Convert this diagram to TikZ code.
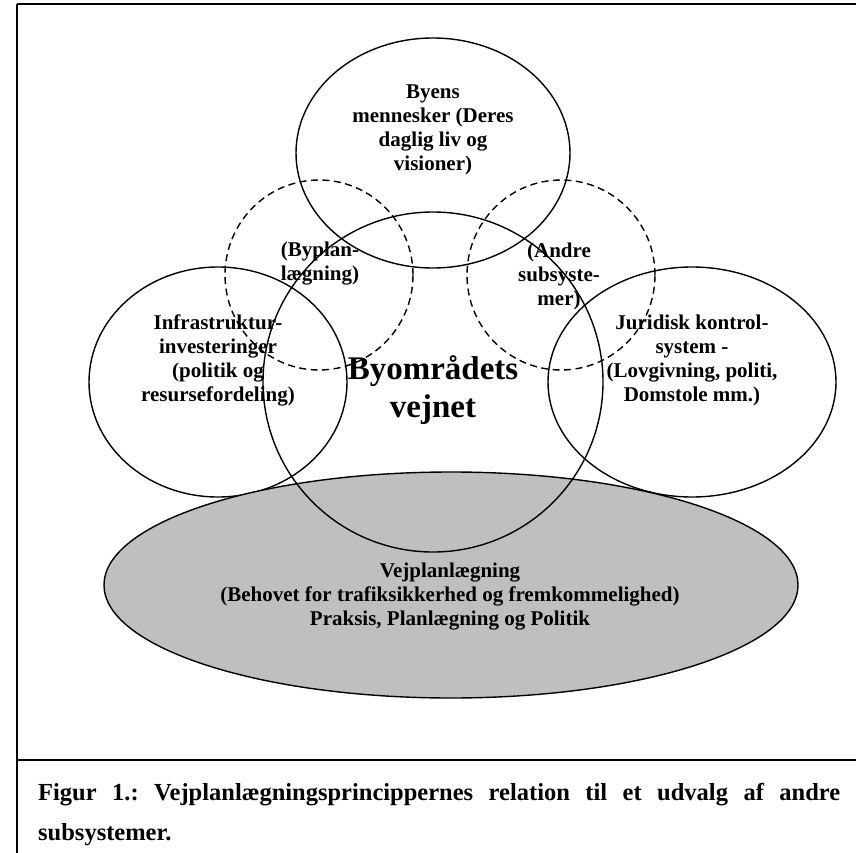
\documentclass[tikz,border=0pt]{standalone}
\usepackage{fontspec}
\setmainfont{Liberation Serif}
\begin{document}
\begin{tikzpicture}[x=1pt,y=-1pt,
  ring/.style={draw=black,line width=1.4pt},
  dashring/.style={draw=black,line width=1.4pt,dash pattern=on 7pt off 4.5pt},
  lbl/.style={font=\fontsize{21}{24}\selectfont\bfseries,align=center,inner sep=0pt},
  biglbl/.style={font=\fontsize{33}{38}\selectfont\bfseries,align=center,inner sep=0pt},
  frameline/.style={draw=black,line width=2pt},
]
\useasboundingbox (0,0) rectangle (856,853);

% outer frame and caption separator
\draw[frameline] (17,4) -- (870,4);
\draw[frameline] (17,4) -- (17,870);
\draw[frameline] (17,760) -- (870,760);

% side subsystems
\draw[ring] (218,382) ellipse [x radius=129pt, y radius=115pt];
\draw[ring] (692,382) ellipse [x radius=144pt, y radius=115pt];

% road planning base
\draw[ring,fill=black!25] (451,585) ellipse [x radius=347pt, y radius=113pt];

% citizens
\draw[ring] (433,153) ellipse [x radius=137pt, y radius=115pt];

% central road network
\draw[ring] (433,382) ellipse [x radius=170pt, y radius=170pt];

% dashed subsystems
\draw[dashring] (319,275) ellipse [x radius=94pt, y radius=95pt];
\draw[dashring] (561,275) ellipse [x radius=94pt, y radius=95pt];

% labels
\node[lbl] (byens) at (433,130) {Byens\\mennesker (Deres\\daglig liv og\\visioner)};
\node[lbl] (byplan) at (320,264) {(Byplan-\\lægning)};
\node[lbl] (andre) at (559,276) {(Andre\\subsyste-\\mer)};
\node[lbl] (infra) at (218,360) {Infrastruktur-\\investeringer\\(politik og\\resursefordeling)};
\node[lbl] (jur) at (692,360) {Juridisk kontrol-\\system -\\(Lovgivning, politi,\\Domstole mm.)};
\node[biglbl] (vejnet) at (433,390) {Byområdets\\vejnet};
\node[lbl] (vejpl) at (450,597) {Vejplanlægning\\(Behovet for trafiksikkerhed og fremkommelighed)\\Praksis, Planlægning og Politik};

% caption
\node[anchor=north west,inner sep=0pt,text width=802pt,align=justify,
      font=\fontsize{24.5}{40}\selectfont\bfseries\frenchspacing] (caption) at (38,783.5)
  {Figur 1.: Vejplanlægningsprincippernes relation til et udvalg af andre\linebreak subsystemer.};
\end{tikzpicture}
\end{document}
